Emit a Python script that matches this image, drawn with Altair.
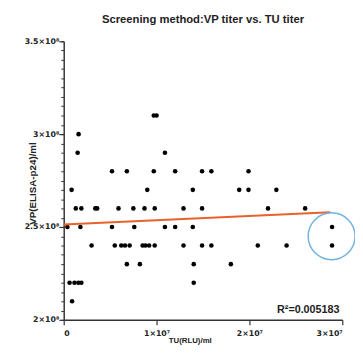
import altair as alt
import pandas as pd

# TU titer (x, RLU/ml) grouped by VP titer level (y, /ml)
vp_levels = [3.1e8, 3.0e8, 2.9e8, 2.8e8, 2.7e8, 2.6e8, 2.5e8, 2.4e8, 2.3e8, 2.2e8, 2.1e8]
tu_by_level = [
    [0.97e7, 1.0e7],
    [0.16e7],
    [0.15e7, 1.09e7],
    [0.52e7, 0.68e7, 0.97e7, 1.2e7, 1.49e7, 1.59e7, 1.99e7],
    [0.085e7, 0.9e7, 1.39e7, 1.89e7, 1.99e7, 2.29e7],
    [0.13e7, 0.19e7, 0.34e7, 0.36e7, 0.59e7, 0.75e7, 0.87e7, 0.98e7, 1.29e7, 1.49e7, 2.2e7, 2.6e7],
    [0.04e7, 0.18e7, 0.52e7, 0.76e7, 1.09e7, 1.2e7, 1.39e7, 2.89e7],
    [0.3e7, 0.55e7, 0.62e7, 0.66e7, 0.71e7, 0.85e7, 0.88e7, 0.92e7, 0.98e7, 1.29e7, 1.49e7, 1.59e7, 2.09e7, 2.4e7, 2.89e7],
    [0.68e7, 0.82e7, 1.4e7, 1.8e7],
    [0.063e7, 0.116e7, 0.158e7, 0.19e7, 1.4e7],
    [0.09e7],
]

# fitted line
fit_x = [0, 2.87e7]
fit_y = [2.513e8, 2.579e8]

y_major = [2.0e8, 2.5e8, 3.0e8, 3.5e8]
y_minor = [round(2.0e8 + i * 0.05e8) for i in range(31)]
x_major = [0, 1e7, 2e7, 3e7]

title_text = "Screening method:VP titer vs. TU titer"
x_title = "TU(RLU)/ml"
y_title = "VP(ELISA-p24)/ml"
r2_text = "R²=0.005183"
r2_pos = [2.97e7, 2.05e8]
circle_pos = [2.885e7, 2.45e8]

rows = []
for lvl, xs in zip(vp_levels, tu_by_level):
    for xv in xs:
        rows.append({"tu": xv, "vp": lvl})
df = pd.DataFrame(rows)

FONT = "Liberation Sans"
TICKFONT = "DejaVu Sans"
xs = alt.Scale(domain=[0, 3e7], nice=False, zero=False)
ys = alt.Scale(domain=[2e8, 3.5e8], nice=False, zero=False)

y_axis = alt.Axis(
    values=y_major, title=y_title, grid=False, orient="left",
    labelExpr="format(datum.value/1e8, '') + '×10⁸'",
    labelFont=TICKFONT, labelFontSize=8, labelFontWeight="bold", labelColor="#222",
    labelPadding=0, tickSize=5, tickColor="#333", tickWidth=1.2,
    domainColor="#333", domainWidth=1.5,
    titleFont=FONT, titleFontSize=10, titleFontWeight="bold", titleColor="#222",
    titleX=-32, titleY=145, titleAlign="center", titleBaseline="middle",
)
x_axis = alt.Axis(
    values=x_major, title=x_title, grid=False,
    labelExpr="datum.value == 0 ? '0' : format(datum.value/1e7, '') + '×10⁷'",
    labelFont=TICKFONT, labelFontSize=8, labelFontWeight="bold", labelColor="#222",
    labelPadding=5, tickSize=5, tickColor="#333", tickWidth=1.2,
    domainColor="#333", domainWidth=1.5,
    titleFont=FONT, titleFontSize=8, titleFontWeight="bold", titleColor="#222",
    titleX=129, titleY=21, titleAlign="center", titleBaseline="middle",
)

base = alt.Chart(df)

points = base.mark_circle(size=22, color="black", opacity=1).encode(
    x=alt.X("tu:Q", scale=xs, axis=x_axis),
    y=alt.Y("vp:Q", scale=ys, axis=y_axis),
)

minor = alt.Chart(pd.DataFrame({"v": y_minor})).mark_tick(opacity=0).encode(
    y=alt.Y("v:Q", scale=ys, axis=alt.Axis(values=y_minor, labels=False, title=None, domain=False,
                                            grid=False, tickSize=3, tickColor="#333", tickWidth=1,
                                            orient="left")),
)

fit = alt.Chart(pd.DataFrame({"x": fit_x, "y": fit_y})).mark_line(
    color="#e8622c", strokeWidth=2
).encode(x=alt.X("x:Q", scale=xs), y=alt.Y("y:Q", scale=ys, axis=None))

circ = alt.Chart(pd.DataFrame({"x": [circle_pos[0]], "y": [circle_pos[1]]})).mark_point(
    shape="circle", size=2300, filled=False, stroke="#6fb3e0", strokeWidth=1.5, opacity=1
).encode(x=alt.X("x:Q", scale=xs), y=alt.Y("y:Q", scale=ys, axis=None))

r2 = alt.Chart(pd.DataFrame({"x": [r2_pos[0]], "y": [r2_pos[1]], "t": [r2_text]})).mark_text(
    align="right", baseline="middle", font=FONT, fontSize=11, fontWeight="bold", color="#222"
).encode(x=alt.X("x:Q", scale=xs), y=alt.Y("y:Q", scale=ys, axis=None), text="t:N")

chart = alt.layer(points, fit, circ, r2, minor).resolve_axis(y="independent").properties(
    width=285, height=285,
    title=alt.TitleParams(title_text, font=FONT, fontSize=11.5, fontWeight="bold", color="#222",
                          anchor="middle", offset=12),
    autosize=alt.AutoSizeParams(type="none"),
    padding={"left": 57, "top": 30, "right": 13, "bottom": 35},
).configure_view(stroke=None)

chart.save("out.html", embed_options={"renderer": "svg", "actions": False})
